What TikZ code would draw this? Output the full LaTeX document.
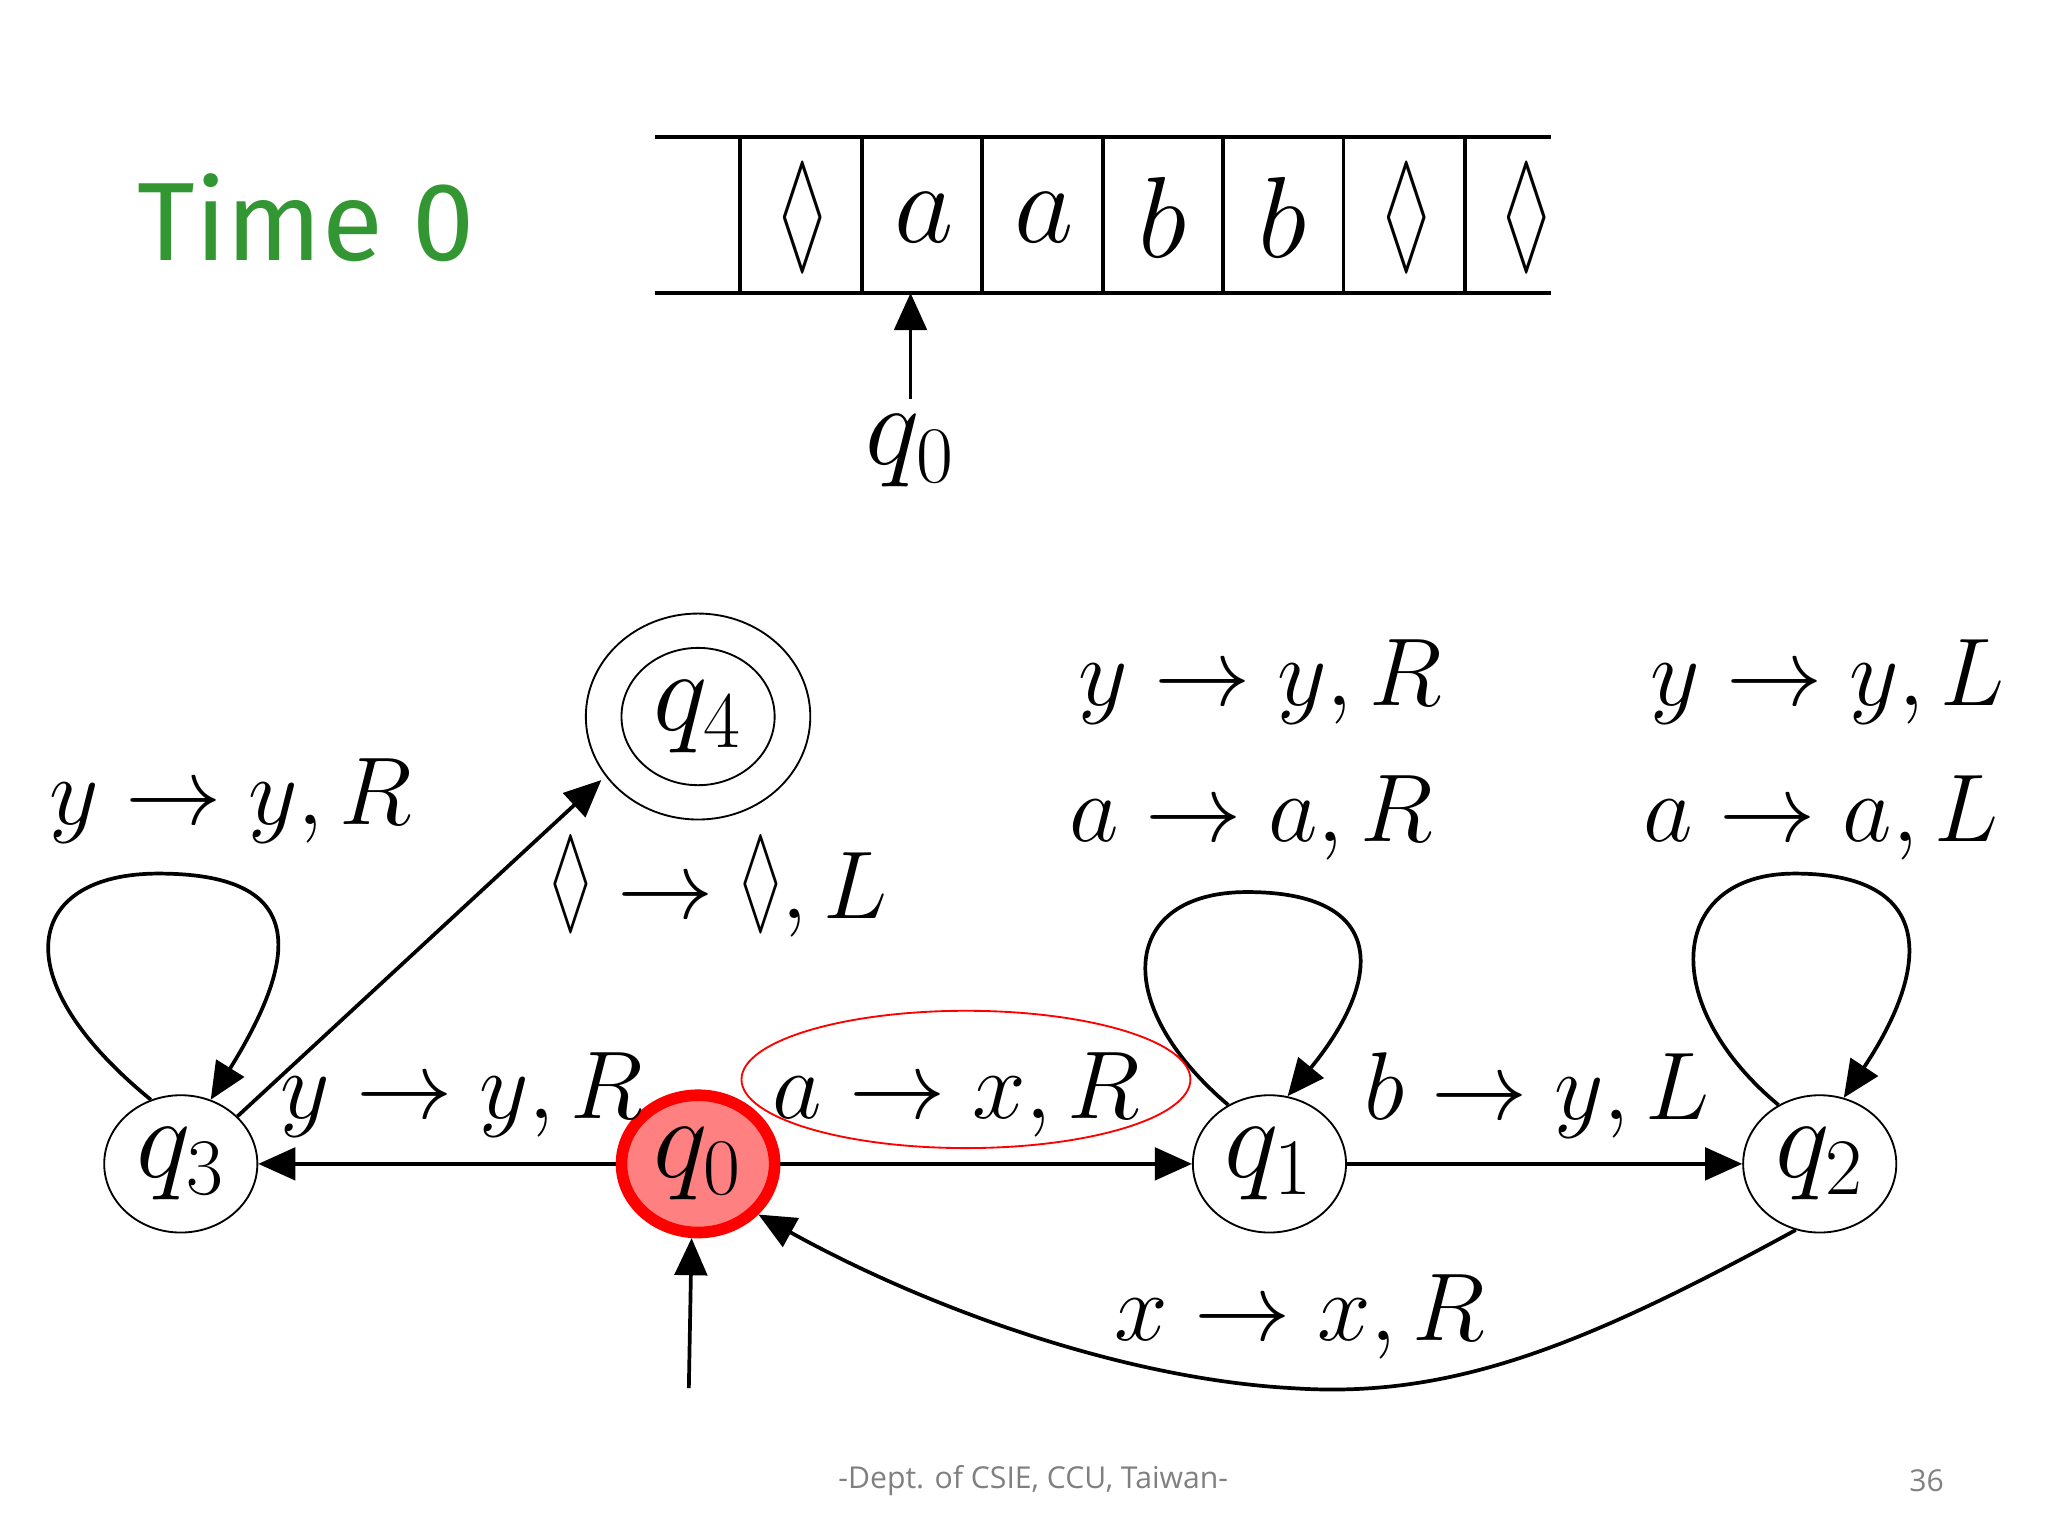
\documentclass[tikz,border=0pt]{standalone}
\usepackage{amssymb}
\usepackage{graphicx}
\usepackage{fontspec}
\newfontfamily\footfont{Open Sans}
\newfontfamily\timefont{Fira Sans}
\usetikzlibrary{arrows.meta,shapes.geometric}
\definecolor{tgreen}{RGB}{50,150,50}
\definecolor{qred}{RGB}{255,128,128}
\newcommand{\dmd}{\mbox{\scalebox{0.6}[1.15]{$\lozenge$}}}
\newcommand{\arr}{\mathrel{\rightarrow}}
\tikzset{
  lbl/.style={font=\fontsize{22}{26}\selectfont},
  tape/.style={font=\fontsize{25}{30}\selectfont},
  st/.style={draw,ellipse,minimum width=1.16cm,minimum height=1.04cm,inner sep=0pt,font=\fontsize{24}{28}\selectfont},
  edge/.style={-{Triangle[length=8pt,width=7pt]},line width=0.8pt},
}
\begin{document}
\begin{tikzpicture}[x=0.01cm,y=-0.01cm]
\useasboundingbox (0,0) rectangle (1552,1164);
% tape
\draw[line width=0.8pt] (496,104) -- (1175,104) (496,222) -- (1175,222);
\foreach \x in {561,653,744,836,927,1018,1110} \draw[line width=0.8pt] (\x,104) -- (\x,222);
\foreach \x/\t in {700/$a$,791/$a$,881/$b$,972/$b$,608/\dmd,1066/\dmd,1157/\dmd}
  \node[tape] (c\x) at (\x,165) {\t};
\node[tape] (hd) at (690,342) {$q_0$};
\coordinate (hp) at (690,222);
\draw[edge] (hd.north) -- (hp);
\node[text=tgreen,font=\timefont\fontsize{24}{28}\selectfont] (time) at (232,165) {Time 0};
% states
\node[st] (q3) at (137,882) {$q_3$};
\node[st,fill=qred,draw=red,line width=2.5pt] (q0) at (529,882) {$q_0$};
\node[st] (q1) at (962,882) {$q_1$};
\node[st] (q2) at (1379,882) {$q_2$};
\node[st] (q4) at (529,543) {$q_4$};
\node[draw,ellipse,minimum width=1.7cm,minimum height=1.56cm] (q4o) at (529,543) {};
% edges
\draw[edge] (q0) -- (q3);
\draw[edge] (q0) -- (q1);
\draw[edge] (q1) -- (q2);
\draw[edge] (q3.40) -- ([xshift=-0.1cm,yshift=0.05cm]q4o.220);
\draw[edge] (q2.250) .. controls (1200,1020) and (1100,1060) .. (980,1052) .. controls (850,1045) and (700,990) .. (q0.-40);
\coordinate (st0) at (522,1052);
\draw[edge] (st0) -- (q0.265);
% loops
\draw[edge] (q3.115) .. controls (0,740) and (20,662) .. (120,662) .. controls (230,662) and (230,720) .. (q3.65);
\draw[edge] (q1.125) .. controls (840,760) and (850,676) .. (945,676) .. controls (1050,676) and (1050,740) .. (q1.75);
\draw[edge] (q2.125) .. controls (1255,760) and (1265,662) .. (1360,662) .. controls (1465,662) and (1465,730) .. (q2.70);
% labels
\node[lbl] (l30) at (350,830) {$y\arr y,R$};
\node[lbl] (l01) at (725,830) {$a\arr x,R$};
\node[draw=red,ellipse,minimum width=3.4cm,minimum height=1.04cm] (red) at (732,818) {};
\node[lbl] (l12) at (1165,830) {$b\arr y,L$};
\node[lbl] (l20) at (985,998) {$x\arr x,R$};
\node[lbl] (l34) at (545,672) {$\dmd\arr\dmd,L$};
\node[lbl] (lq3) at (175,607) {$y\arr y,R$};
\node[lbl] (lq1a) at (955,517) {$y\arr y,R$};
\node[lbl] (lq1b) at (948,620) {$a\arr a,R$};
\node[lbl] (lq2a) at (1385,517) {$y\arr y,L$};
\node[lbl] (lq2b) at (1380,620) {$a\arr a,L$};
% footer
\node[text=gray,font=\footfont\fontsize{6.5}{8}\selectfont] (ft) at (783,1122) {-Dept. of CSIE, CCU, Taiwan-};
\node[text=gray,font=\footfont\fontsize{6.5}{8}\selectfont] (pg) at (1460,1122) {36};
\end{tikzpicture}
\end{document}
